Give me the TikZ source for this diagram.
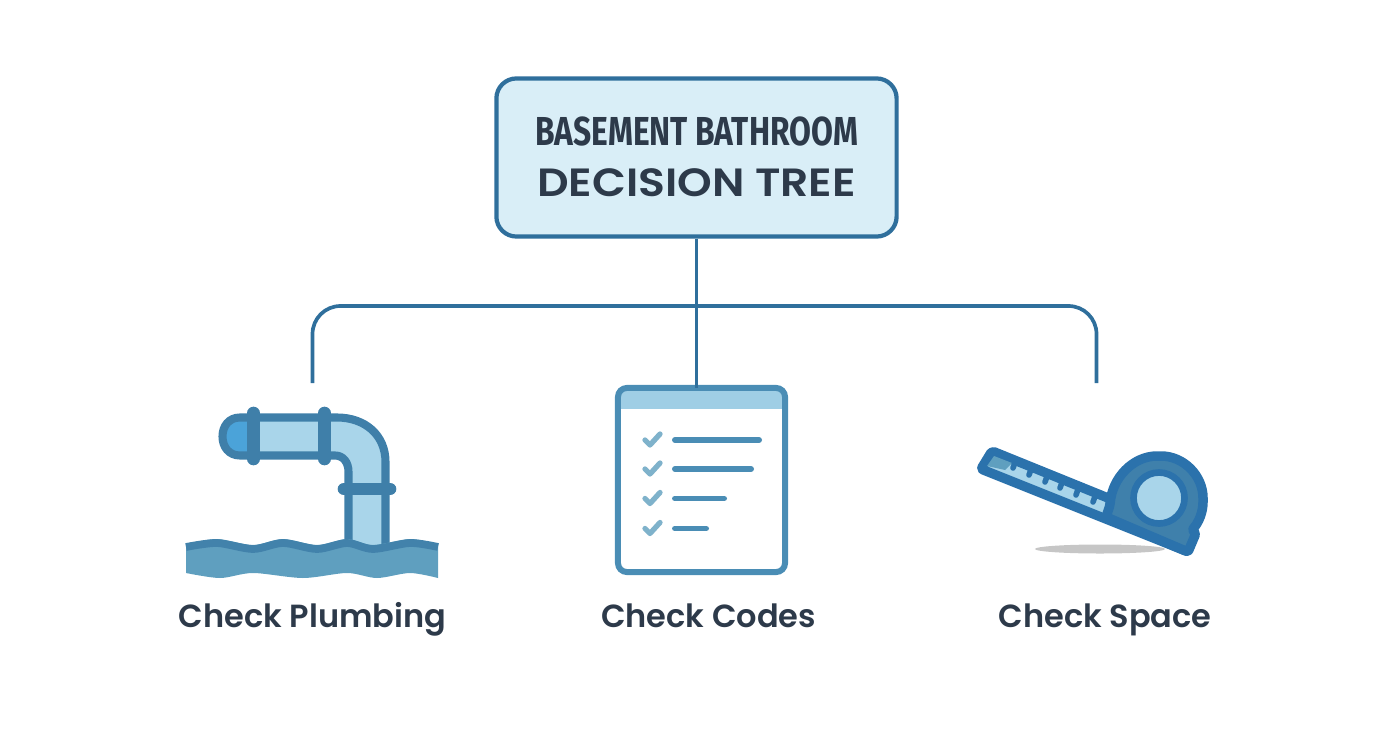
\documentclass[tikz,border=0pt]{standalone}
\usepackage{fontspec}
\setmainfont{Poppins}
\newfontfamily\headfont[FakeStretch=0.785]{Fira Sans}
\newfontfamily\treefont[FakeStretch=1.12]{Poppins SemiBold}
\newfontfamily\lblfont{Poppins SemiBold}
\usetikzlibrary{
    calc,
    positioning
}
\definecolor{inkc}{HTML}{2D3A4A}
\definecolor{linec}{HTML}{2F6F9C}
\definecolor{rootc}{HTML}{D9EEF7}
\definecolor{pipec}{HTML}{3F7FA9}
\definecolor{palec}{HTML}{A9D5EA}
\definecolor{capc}{HTML}{4BA3D9}
\definecolor{waterc}{HTML}{5F9FBF}
\definecolor{boxc}{HTML}{4A8DB5}
\definecolor{tickc}{HTML}{7FB2CB}
\definecolor{tapec}{HTML}{2B72AC}
\definecolor{bodyc}{HTML}{3F80AB}
\tikzset{rootbox/.style={draw=linec, fill=rootc, line width=1.2pt, rounded corners=.2cm, minimum width=4cm, minimum height=1.58cm, inner sep=0pt}}
\tikzset{bus/.style={draw=linec, line width=1.05pt}}
\tikzset{lbl/.style={text=inkc, inner sep=0pt, anchor=base, font=\lblfont\fontsize{9.1}{11}\selectfont}}
\tikzset{pipeline/.style={draw=pipec, line width=2.3pt}}
\tikzset{flange/.style={draw=pipec, line width=3.6pt, line cap=round}}
\tikzset{listline/.style={draw=boxc, line width=1.7pt, line cap=round}}
\tikzset{tickmark/.style={draw=tickc, line width=1.5pt, line cap=round, line join=round}}
\tikzset{tape/.style={draw=tapec, line width=2.7pt, line join=round, rounded corners=.02cm}}
\begin{document}
\begin{tikzpicture}[x=0.01cm, y=-0.01cm]
    \useasboundingbox (0, 0) rectangle (1392, 752);

    \node[rootbox] (root) at (696.5, 157.5) {};
    \node[text=inkc, inner sep=0pt, font=\headfont\fontsize{11.5}{13}\selectfont\bfseries] (titlea) at (696.5, 131) {BASEMENT BATHROOM};
    \node[text=inkc, inner sep=0pt, font=\treefont\fontsize{11.2}{13}\selectfont] (titleb) at (696.5, 183) {DECISION TREE};

    \node[fill=white, outer sep=0pt, minimum width=1.67cm, minimum height=1.84cm, inner sep=0pt] (codes) at (701.5, 480) {};
    \fill[palec!90!boxc] (618, 391) rectangle (785, 409);
    \draw[draw=boxc, line width=1.7pt, rounded corners=.09cm] (codes.south west) rectangle (codes.north east);

    \coordinate (plumb) at (312.5, 383);
    \coordinate (space) at (1096.5, 383);
    \coordinate (fork) at (696.5, 306);

    \draw[bus] (root.south) -- (root.south |- codes.north);
    \draw[bus, rounded corners=.28cm] (plumb) |- (fork) -| (space);

    % plumbing
    \fill[capc] (253, 417.5) -- (240, 417.5) .. controls (229, 417.5) and (222.5, 426) .. (222.5, 436.5) .. controls (222.5, 447) and (229, 455.5) .. (240, 455.5) -- (253, 455.5) -- cycle;
    \fill[palec] (253, 417.5) -- (337, 417.5) .. controls (365, 417.5) and (385.5, 435) .. (385.5, 462) -- (385.5, 545) -- (348.5, 545) -- (348.5, 472) .. controls (348.5, 462) and (343, 455.5) .. (335, 455.5) -- (253, 455.5) -- cycle;
    \draw[pipeline] (253, 417.5) -- (240, 417.5) .. controls (229, 417.5) and (222.5, 426) .. (222.5, 436.5) .. controls (222.5, 447) and (229, 455.5) .. (240, 455.5) -- (253, 455.5);
    \draw[pipeline] (253, 417.5) -- (337, 417.5) .. controls (365, 417.5) and (385.5, 435) .. (385.5, 462) -- (385.5, 545);
    \draw[pipeline] (253, 455.5) -- (335, 455.5) .. controls (343, 455.5) and (348.5, 462) .. (348.5, 472) -- (348.5, 545);
    \draw[flange] (253.5, 413) -- (253.5, 459);
    \draw[flange] (324.5, 413) -- (324.5, 459);
    \draw[flange] (344, 489) -- (390, 489);

    \fill[waterc] plot[smooth] coordinates {(186, 544) (217, 539) (253, 545) (283, 539) (317, 545) (347, 539) (373, 545) (410, 539) (438, 544)}
        -- plot[smooth] coordinates {(438, 578) (410, 573) (377, 578) (347, 573) (303, 578) (253, 573) (220, 578) (186, 573)} -- cycle;
    \draw[draw=pipec!90!waterc, line width=2.2pt] plot[smooth] coordinates {(186, 547) (217, 543) (253, 549) (283, 543) (317, 549) (347, 543) (373, 549) (410, 543) (438, 547)};

    \node[lbl] (plumblbl) at (312.5, 627) {Check Plumbing};

    % codes
    \foreach \y/\x in {440/759, 469/751, 498.5/724, 528.5/706}{
        \draw[tickmark] (645, \y) -- (650, \y+5) -- (660, \y-6);
        \draw[listline] (675, \y) -- (\x, \y);
    }
    \node[lbl] (codeslbl) at (708.5, 627) {Check Codes};

    % tape
    \fill[gray!45] (1100, 549) ellipse (.65cm and .045cm);
    \draw[tape, fill=palec] (992, 451) -- (1108, 498) -- (1186, 551) -- (981, 469) -- cycle;
    \fill[waterc] (994, 456) -- (1012, 463) -- (1005, 470) -- (987, 466) -- cycle;
    \foreach \x/\y in {1013/468, 1029/475, 1045/482, 1060/488, 1076/495, 1093/502}{
        \draw[draw=tapec, line width=1.6pt, line cap=round] (\x, \y) -- (\x+2.5, \y-7);
    }
    \draw[tape, fill=bodyc] (1106, 517) -- (1110, 505) .. controls (1112, 478) and (1133, 456) .. (1159, 456) .. controls (1184, 456) and (1203, 476) .. (1203, 500) .. controls (1203, 512) and (1199, 522) .. (1192, 530) -- (1196, 533) -- (1188, 552) -- cycle;
    \node[circle, draw=tapec, fill=palec, line width=1.9pt, minimum size=.51cm, inner sep=0pt] (dial) at (1159, 498) {};
    \node[lbl] (spacelbl) at (1105, 627) {Check Space};
\end{tikzpicture}
\end{document}
